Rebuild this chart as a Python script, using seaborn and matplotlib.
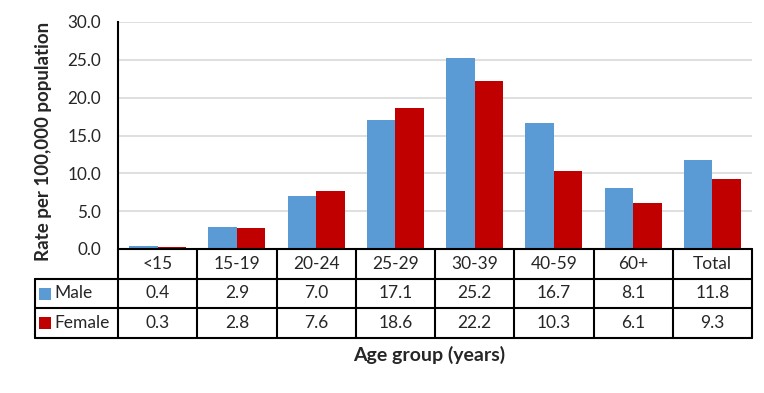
import pandas as pd
import matplotlib
matplotlib.use("Agg")
import matplotlib.pyplot as plt
import seaborn as sns

# data
age_groups = ["<15", "15-19", "20-24", "25-29", "30-39", "40-59", "60+", "Total"]
male = [0.4, 2.9, 7.0, 17.1, 25.2, 16.7, 8.1, 11.8]
female = [0.3, 2.8, 7.6, 18.6, 22.2, 10.3, 6.1, 9.3]
series = ["Male", "Female"]
colors = {"Male": "#5B9BD5", "Female": "#C00000"}

df = pd.DataFrame({"age": age_groups * 2,
                   "sex": ["Male"] * len(male) + ["Female"] * len(female),
                   "rate": male + female})

sns.set_theme(style="white")
plt.rcParams["font.family"] = ["Lato", "DejaVu Sans"]

W, H = 764, 393
fig = plt.figure(figsize=(W / 100, H / 100), dpi=100)

# plot area in pixels
x0, x1, ytop, ybot = 118, 752, 22, 249
ax = fig.add_axes([x0 / W, 1 - ybot / H, (x1 - x0) / W, (ybot - ytop) / H])

sns.barplot(data=df, x="age", y="rate", hue="sex", palette=colors,
            order=age_groups, hue_order=series, width=0.72, gap=0,
            saturation=1, linewidth=0, ax=ax, legend=False)
ax.set_xlim(-0.5, len(age_groups) - 0.5)
ax.set_ylim(0, 30)
ax.set_yticks(range(0, 31, 5))
ax.set_yticklabels([f"{v:.1f}" for v in range(0, 31, 5)], fontsize=12.3)
ax.tick_params(axis="y", length=0, pad=12)
ax.set_xticks([])
ax.set_xlabel("")
ax.set_ylabel("")
ax.grid(axis="y", color="#D9D9D9", linewidth=1.2)
ax.set_axisbelow(True)
for s in ["top", "right", "bottom"]:
    ax.spines[s].set_visible(False)
ax.spines["left"].set_color("black")
ax.spines["left"].set_linewidth(1.5)

# data table below the plot, in category units
tab_left, tab_bot = 35, 338
unit = (x1 - x0) / len(age_groups)
lx = -0.5 - (x0 - tab_left) / unit
tab = fig.add_axes([tab_left / W, 1 - tab_bot / H, (x1 - tab_left) / W, (tab_bot - ybot) / H])
tab.set_xlim(lx, len(age_groups) - 0.5)
tab.set_ylim(3, 0)
tab.axis("off")
lw = 1.5
n = len(age_groups)
tab.plot([-0.5, n - 0.5], [0, 0], color="black", lw=lw, clip_on=False)
for r in [1, 2, 3]:
    tab.plot([lx, n - 0.5], [r, r], color="black", lw=lw, clip_on=False)
tab.plot([lx, lx], [1, 3], color="black", lw=lw, clip_on=False)
for k in range(n + 1):
    tab.plot([k - 0.5, k - 0.5], [0, 3], color="black", lw=lw, clip_on=False)

fs = 12.5
for i, name in enumerate(age_groups):
    tab.text(i, 0.5, name, ha="center", va="center", fontsize=fs)
for row, (name, vals) in enumerate(zip(series, [male, female]), start=1):
    tab.text(lx + 0.25, row + 0.5, name, ha="left", va="center", fontsize=fs)
    tab.scatter([lx + 0.13], [row + 0.5], marker="s", s=80, color=colors[name],
                linewidths=0, clip_on=False)
    for i, v in enumerate(vals):
        tab.text(i, row + 0.5, f"{v:.1f}", ha="center", va="center", fontsize=fs)

fig.text(44 / W, 1 - 141 / H, "Rate per 100,000 population",
         rotation=90, ha="center", va="center", fontsize=13.5, fontweight="bold")
fig.text(429 / W, 1 - 355 / H, "Age group (years)", ha="center", va="center",
         fontsize=14, fontweight="bold")

fig.savefig("out.png", dpi=100, facecolor="white")
